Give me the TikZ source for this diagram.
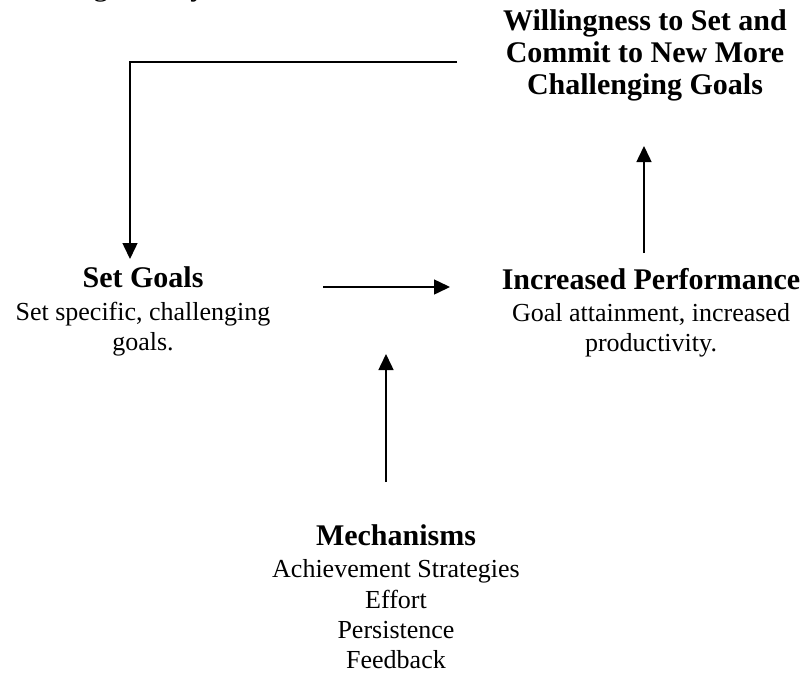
\documentclass[tikz,border=0pt]{standalone}
\usepackage{fontspec}
\setmainfont{Liberation Serif}
\usetikzlibrary{arrows.meta}
\begin{document}
\begin{tikzpicture}[x=1pt,y=-1pt,
  headline/.style={anchor=base,inner sep=0pt,font=\fontsize{30}{34}\selectfont\bfseries},
  bodyline/.style={anchor=base,inner sep=0pt,font=\fontsize{26}{30}\selectfont},
  link/.style={line width=1.5pt},
  arr/.style={link,-{Triangle[width=15pt,length=16pt]}}]
\useasboundingbox (0,0) rectangle (803,675);

% title line running off the top edge
\node[anchor=base west,inner sep=0pt,font=\fontsize{31}{36}\selectfont] (title) at (20.6,-5) {Setting Theory};

% top: new goals
\node[headline] (w1) at (645,30) {Willingness to Set and};
\node[headline] (w2) at (645,62) {Commit to New More};
\node[headline] (w3) at (645,94) {Challenging Goals};

% left: set goals
\node[headline] (sg1) at (143,287) {Set Goals};
\node[bodyline] (sg2) at (143,320) {Set specific, challenging};
\node[bodyline] (sg3) at (143,350) {goals.};

% right: performance
\node[headline] (ip1) at (651,289) {Increased Performance};
\node[bodyline] (ip2) at (651,321) {Goal attainment, increased};
\node[bodyline] (ip3) at (651,351) {productivity.};

% bottom: mechanisms
\node[headline] (m1) at (396,545) {Mechanisms};
\node[bodyline] (m2) at (396,577) {Achievement Strategies};
\node[bodyline] (m3) at (396,608) {Effort};
\node[bodyline] (m4) at (396,638) {Persistence};
\node[bodyline] (m5) at (396,668) {Feedback};

% connector end points
\coordinate (fbStart) at (457,62);
\coordinate (fbCorner) at (130,62);
\coordinate (fbEnd) at (130,259);
\coordinate (hStart) at (323,287);
\coordinate (hEnd) at (450,287);
\coordinate (upStart) at (644,253);
\coordinate (upEnd) at (644,146);
\coordinate (mStart) at (386,482);
\coordinate (mEnd) at (386,354);

\draw[arr] (fbStart) -- (fbCorner) -- (fbEnd);
\draw[arr] (hStart) -- (hEnd);
\draw[arr] (upStart) -- (upEnd);
\draw[arr] (mStart) -- (mEnd);
\end{tikzpicture}
\end{document}
